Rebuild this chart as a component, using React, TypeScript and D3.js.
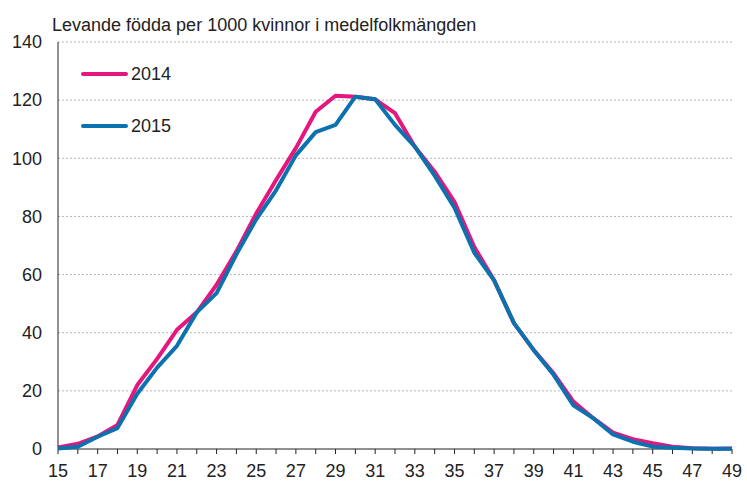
import React from "react";
import * as d3 from "d3";

const ages = d3.range(15, 50);
const births2014 = [0.5, 1.8, 4.3, 8.3, 22, 31, 41, 47, 56.5, 68, 81, 92.5, 103.5, 116, 121.5, 121.2, 120.3, 115.5, 104, 95.4, 85, 69.5, 58, 43.3, 34, 26, 16.3, 10.6, 5.6, 3.4, 2, 0.8, 0.3, 0.1, 0.2];
const births2015 = [0.2, 0.8, 4.2, 7.2, 19, 28, 35.5, 47, 53.6, 67, 79, 89, 101, 109, 111.5, 121.2, 120.3, 111.5, 104, 94, 83, 67.5, 58, 43.3, 34, 25.5, 15, 10.6, 5, 2.5, 0.8, 0.4, 0.2, 0.1, 0.1];
const yTicks = [0, 20, 40, 60, 80, 100, 120, 140];
const series = [
  { name: "2014", values: births2014, color: "#e5177e" },
  { name: "2015", values: births2015, color: "#0a72ae" },
];

const W = 747, H = 481;
const margin = { top: 42, right: 15, bottom: 32, left: 58 };
const width = W - margin.left - margin.right;
const height = H - margin.top - margin.bottom;
const font = "Arial, 'Liberation Sans', sans-serif";

export default function App() {
  const x = d3.scaleLinear().domain([15, 49]).range([0, width]);
  const y = d3.scaleLinear().domain([0, 140]).range([height, 0]);
  const line = d3.line<number>()
    .x((d, i) => x(ages[i]))
    .y((d) => y(d));

  return (
    <svg width={W} height={H} style={{ position: "absolute", left: 0, top: 0, background: "#fff" }}>
      <text x={52} y={31} fontFamily={font} fontSize={18} fill="#222">
        Levande födda per 1000 kvinnor i medelfolkmängden
      </text>
      <g transform={"translate(" + margin.left + "," + margin.top + ")"}>
        {yTicks.map((t) => (
          <g key={t}>
            {t > 0 && (
              <line x1={0} x2={width} y1={y(t)} y2={y(t)} stroke="#b5b5b5" strokeDasharray="2,2" />
            )}
            <text x={-16} y={y(t)} dy="0.35em" textAnchor="end" fontFamily={font} fontSize={18} fill="#222">
              {t}
            </text>
          </g>
        ))}
        <line x1={0} x2={0} y1={0} y2={height} stroke="#222" />
        <line x1={0} x2={width} y1={height} y2={height} stroke="#222" />
        {ages.map((a) => (
          <g key={a} transform={"translate(" + x(a) + "," + height + ")"}>
            <line y1={0} y2={5} stroke="#222" />
            {a % 2 === 1 && (
              <text y={28} textAnchor="middle" fontFamily={font} fontSize={18} fill="#222">
                {a}
              </text>
            )}
          </g>
        ))}
        {series.map((s) => (
          <path key={s.name} d={line(s.values) || ""} fill="none" stroke={s.color} strokeWidth={4} strokeLinejoin="round" />
        ))}
        {series.map((s, i) => (
          <g key={s.name} transform={"translate(25," + (32 + i * 52) + ")"}>
            <line x1={0} x2={43} y1={0} y2={0} stroke={s.color} strokeWidth={4} strokeLinecap="round" />
            <text x={48} y={0} dy="0.36em" fontFamily={font} fontSize={18} fill="#222">
              {s.name}
            </text>
          </g>
        ))}
      </g>
    </svg>
  );
}
